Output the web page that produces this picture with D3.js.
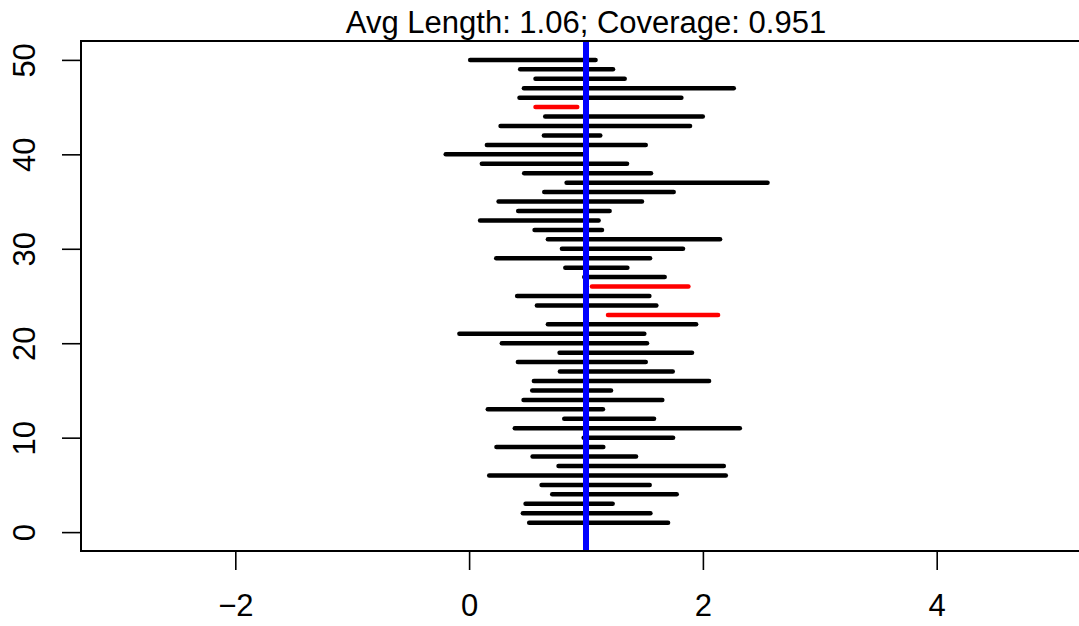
<!DOCTYPE html>
<html>
<head>
<meta charset="utf-8">
<script src="https://cdn.jsdelivr.net/npm/d3@7"></script>
<style>
  body { margin: 0; background: #fff; }
  svg { display: block; }
  text { font-family: "Liberation Sans", Arial, sans-serif; fill: #000; }
</style>
</head>
<body>
<div id="chart"></div>
<script>
// interval number 1..50 (bottom to top)
var lower = [0.514, 0.460, 0.483, 0.711, 0.620, 0.172, 0.765, 0.543, 0.234, 0.980,
             0.391, 0.814, 0.160, 0.466, 0.540, 0.554, 0.777, 0.417, 0.774, 0.280,
             -0.083, 0.674, 1.188, 0.580, 0.411, 1.051, 0.985, 0.823, 0.232, 0.794,
             0.674, 0.560, 0.094, 0.420, 0.252, 0.643, 0.834, 0.471, 0.109, -0.200,
             0.152, 0.640, 0.269, 0.651, 0.568, 0.431, 0.469, 0.568, 0.437, 0.009]
var upper = [1.702, 1.551, 1.228, 1.776, 1.545, 2.196, 2.179, 1.428, 1.148, 1.745,
             2.316, 1.582, 1.145, 1.653, 1.214, 2.053, 1.742, 1.511, 1.907, 1.522,
             1.499, 1.942, 2.130, 1.602, 1.542, 1.876, 1.673, 1.354, 1.548, 1.830,
             2.147, 1.137, 1.108, 1.202, 1.479, 1.750, 2.553, 1.556, 1.351, 1.000,
             1.511, 1.122, 1.890, 1.999, 0.925, 1.816, 2.264, 1.331, 1.231, 1.082]
var trueValue = 1
var xTicks = [-2, 0, 2, 4]
var yTicks = [0, 10, 20, 30, 40, 50]
var title = "Avg Length: 1.06; Coverage: 0.951"

width = 1079
height = 626
plotLeft = 81
plotRight = 1091
plotTop = 41
plotBottom = 551
fontSize = 31
tickLen = 19

var intervals = lower.map(function(d, i) {
    return {id: i + 1, lo: d, hi: upper[i]}
})

var x = d3.scaleLinear().domain([-3.32, 5.32]).range([plotLeft, plotRight])
var y = d3.scaleLinear().domain([-2, 52]).range([plotBottom, plotTop])

var svg = d3.select("#chart").append("svg")
    .attr("width", width)
    .attr("height", height)

// intervals
svg.append("g").selectAll("line")
    .data(intervals)
    .enter().append("line")
    .attr("x1", function(d) { return x(d.lo) })
    .attr("x2", function(d) { return x(d.hi) })
    .attr("y1", function(d) { return y(d.id) })
    .attr("y2", function(d) { return y(d.id) })
    .attr("stroke", function(d) { return (d.lo <= trueValue && d.hi >= trueValue) ? "#000" : "#ff0000" })
    .attr("stroke-width", 4.5)
    .attr("stroke-linecap", "round")

// true value line
svg.append("line")
    .attr("x1", x(trueValue))
    .attr("x2", x(trueValue))
    .attr("y1", plotTop)
    .attr("y2", plotBottom)
    .attr("stroke", "#0000ff")
    .attr("stroke-width", 6)

// box
svg.append("rect")
    .attr("x", plotLeft)
    .attr("y", plotTop)
    .attr("width", plotRight - plotLeft)
    .attr("height", plotBottom - plotTop)
    .attr("fill", "none")
    .attr("stroke", "#000")
    .attr("stroke-width", 2)

// x axis
var xAxis = d3.axisBottom(x).tickValues(xTicks).tickSize(tickLen).tickPadding(24)
    .tickFormat(function(d) { return d < 0 ? "\u2212" + Math.abs(d) : d })
var gx = svg.append("g").attr("transform", "translate(0," + plotBottom + ")").call(xAxis)
gx.select(".domain").remove()
gx.selectAll(".tick line").attr("stroke", "#000").attr("stroke-width", 1.6)
gx.selectAll(".tick text").attr("font-size", fontSize).attr("font-family", "Liberation Sans, Arial, sans-serif")

// y axis
var yAxis = d3.axisLeft(y).tickValues(yTicks).tickSize(tickLen)
var gy = svg.append("g").attr("transform", "translate(" + plotLeft + ",0)").call(yAxis)
gy.select(".domain").remove()
gy.selectAll(".tick line").attr("stroke", "#000").attr("stroke-width", 1.6)
gy.selectAll(".tick text")
    .attr("font-size", fontSize)
    .attr("font-family", "Liberation Sans, Arial, sans-serif")
    .attr("x", null).attr("dy", null)
    .attr("text-anchor", "middle")
    .attr("transform", "translate(" + (35 - plotLeft) + ",0) rotate(-90)")

// title
svg.append("text")
    .text(title)
    .attr("x", (plotLeft + plotRight) / 2)
    .attr("y", 33)
    .attr("text-anchor", "middle")
    .attr("font-size", fontSize)
</script>
</body>
</html>
